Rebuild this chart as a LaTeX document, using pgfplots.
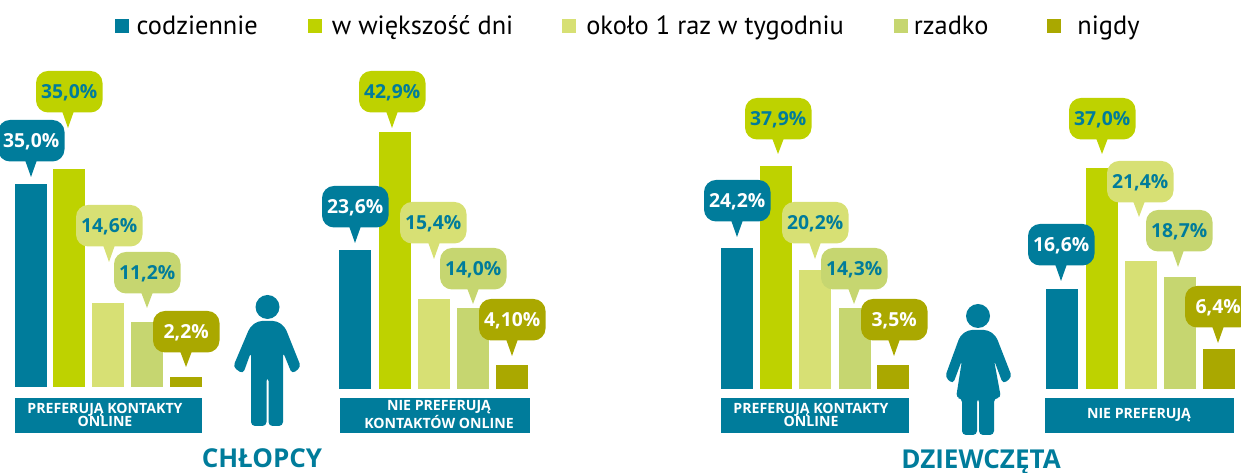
\documentclass[border=0pt]{standalone}
\usepackage{fontspec}
\setmainfont{PT Sans}
\newfontfamily\labelfont[BoldFont={Open Sans Bold}]{Open Sans}
\usepackage{pgfplots}
\pgfplotsset{compat=1.18}
\definecolor{cTeal}{HTML}{007C9B}
\definecolor{cGreen}{HTML}{BED200}
\definecolor{cLight}{HTML}{D7E074}
\definecolor{cMid}{HTML}{C6D670}
\definecolor{cOlive}{HTML}{AAA800}
\pgfplotsset{
  panel/.style={hide axis,x=0.75pt,xmin=0,xmax=1241,ymin=0,ymax=65,anchor=south west,
    ybar,bar width=24pt,bar shift=0pt,clip=false},
  bar/.style={fill=#1,draw=none}
}
% speech bubble: left, top, tip x, tip y, fill, text colour, text (in image pixels)
\newcommand{\bubble}[7]{%
  \fill[#5] ({#3-6},{#2+40}) -- (#3,#4) -- ({#3+6},{#2+40}) -- cycle;
  \fill[#5,rounded corners=9pt] (#1,#2) rectangle ({#1+66.5},{#2+41.5});
  \node[text=#6,font=\labelfont\bfseries\fontsize{14.5pt}{15pt}\selectfont,inner sep=0pt] at ({#1+33.2},{#2+21.5}) {#7};
}
\newcommand{\tag}[5]{%
  \fill[cTeal] (#1,398) rectangle (#2,433);
  \node[text=white,font=\labelfont\bfseries\fontsize{10.6pt}{10.4pt}\selectfont,align=center,inner sep=0pt] at (#3,#4) {#5};
}
\begin{document}
\begin{tikzpicture}
\useasboundingbox (0,0) rectangle (930.75pt,354.75pt);

% chlopcy, preferuja kontakty online
\begin{axis}[panel,y=4.35pt,at={(0pt,64.5pt)},
  legend columns=5,
  legend style={at={(axis cs:115,62.2)},anchor=west,draw=none,fill=none,inner sep=0pt,
    font=\fontsize{19.8pt}{22pt}\selectfont,
    nodes={inner sep=0pt},
    /tikz/column 1/.style={column sep=5.5pt},
    /tikz/column 2/.style={column sep=37.5pt},
    /tikz/column 3/.style={column sep=7.5pt},
    /tikz/column 4/.style={column sep=36.75pt},
    /tikz/column 5/.style={column sep=7.5pt},
    /tikz/column 6/.style={column sep=37.5pt},
    /tikz/column 7/.style={column sep=4.5pt},
    /tikz/column 8/.style={column sep=44.25pt},
    /tikz/column 9/.style={column sep=12pt}},
  legend cell align=left,
  legend image code/.code={\fill[#1] (0pt,-5.25pt) rectangle (10.5pt,5.25pt);}]
\addplot[bar=cTeal] coordinates {(31,35.0)};
\addplot[bar=cGreen] coordinates {(69,37.6)};
\addplot[bar=cLight] coordinates {(108,14.5)};
\addplot[bar=cMid] coordinates {(147,11.2)};
\addplot[bar=cOlive] coordinates {(186,1.7)};
\legend{codziennie,w większość dni,około 1 raz w tygodniu,rzadko,nigdy}
\end{axis}

% chlopcy, nie preferuja
\begin{axis}[panel,y=4.425pt,at={(0pt,63pt)}]
\addplot[bar=cTeal] coordinates {(355,23.6)};
\addplot[bar=cGreen] coordinates {(395,43.6)};
\addplot[bar=cLight] coordinates {(434,15.3)};
\addplot[bar=cMid] coordinates {(473,13.7)};
\addplot[bar=cOlive] coordinates {(512,4.1)};
\end{axis}

% dziewczeta, preferuja kontakty online
\begin{axis}[panel,y=4.425pt,at={(0pt,63pt)}]
\addplot[bar=cTeal] coordinates {(737,23.9)};
\addplot[bar=cGreen] coordinates {(776,37.8)};
\addplot[bar=cLight] coordinates {(815,20.2)};
\addplot[bar=cMid] coordinates {(855,13.7)};
\addplot[bar=cOlive] coordinates {(893,4.1)};
\end{axis}

% dziewczeta, nie preferuja
\begin{axis}[panel,y=4.425pt,at={(0pt,63pt)}]
\addplot[bar=cTeal] coordinates {(1061.5,16.9)};
\addplot[bar=cGreen] coordinates {(1101.5,37.5)};
\addplot[bar=cLight] coordinates {(1140.5,21.7)};
\addplot[bar=cMid] coordinates {(1179.5,19.0)};
\addplot[bar=cOlive] coordinates {(1218.5,6.8)};
\end{axis}

\begin{scope}[x=0.75pt,y=-0.75pt,yshift=354.75pt]
% chlopcy
\bubble{-2}{120}{31}{177}{cTeal}{white}{35,0\%}
\bubble{36}{71}{68}{128}{cGreen}{cTeal}{35,0\%}
\bubble{76}{205}{109}{262}{cLight}{cTeal}{14,6\%}
\bubble{114}{252}{147}{308}{cMid}{cTeal}{11,2\%}
\bubble{153}{311}{186}{367}{cOlive}{white}{2,2\%}
\bubble{322}{186}{355}{243}{cTeal}{white}{23,6\%}
\bubble{359}{71}{392}{128}{cGreen}{cTeal}{42,9\%}
\bubble{400}{202}{434}{259}{cLight}{cTeal}{15,4\%}
\bubble{440}{248}{473}{304}{cMid}{cTeal}{14,0\%}
\bubble{479}{299}{512}{356}{cOlive}{white}{4,10\%}
% dziewczeta
\bubble{704}{180}{737}{237}{cTeal}{white}{24,2\%}
\bubble{745}{98}{778}{154}{cGreen}{cTeal}{37,9\%}
\bubble{782}{202}{815}{259}{cLight}{cTeal}{20,2\%}
\bubble{821}{248}{854}{304}{cMid}{cTeal}{14,3\%}
\bubble{861}{299}{894}{356}{cOlive}{white}{3,5\%}
\bubble{1028}{224}{1061}{281}{cTeal}{white}{16,6\%}
\bubble{1069}{98}{1102}{154}{cGreen}{cTeal}{37,0\%}
\bubble{1107}{161}{1139}{217}{cLight}{cTeal}{21,4\%}
\bubble{1146}{210}{1178}{267}{cMid}{cTeal}{18,7\%}
\bubble{1185}{286}{1218}{343}{cOlive}{white}{6,4\%}

\tag{15}{202}{105}{415}{PREFERUJĄ KONTAKTY\\ONLINE}
\tag{340}{530}{439}{414.5}{NIE PREFERUJĄ\\KONTAKTÓW ONLINE}
\tag{721}{909}{811}{415}{PREFERUJĄ KONTAKTY\\ONLINE}
\tag{1045}{1234}{1139}{415}{NIE PREFERUJĄ}

\node[text=cTeal,font=\labelfont\bfseries\fontsize{19.5pt}{20pt}\selectfont,inner sep=0pt,anchor=base] at (262,468) {CHŁOPCY};
\node[text=cTeal,font=\labelfont\bfseries\fontsize{19.5pt}{20pt}\selectfont,inner sep=0pt,anchor=base] at (981,469) {DZIEWCZĘTA};

% sylwetka chlopca
\fill[cTeal] (267.5,307) circle[radius=9pt];
\fill[cTeal,rounded corners=3pt] (258,321) -- (277,321) -- (285,327) -- (301,367) -- (292,374) -- (283,352)
  -- (283,377) -- (283,426) -- (268.5,426) -- (268.5,377) -- (266.5,377) -- (266.5,426) -- (251,426)
  -- (251,352) -- (243,374) -- (233,367) -- (250,327) -- cycle;
% sylwetka dziewczyny
\fill[cTeal] (978,316) circle[radius=9pt];
\fill[cTeal,rounded corners=3pt] (968,330) -- (988,330) -- (996,336) -- (1012,377) -- (1003,384) -- (994,360)
  -- (1001,398) -- (994,398) -- (994,435) -- (979,435) -- (979,398) -- (977,398) -- (977,435) -- (962,435)
  -- (962,398) -- (956,398) -- (962,360) -- (953,384) -- (945,377) -- (960,336) -- cycle;
\end{scope}
\end{tikzpicture}
\end{document}
